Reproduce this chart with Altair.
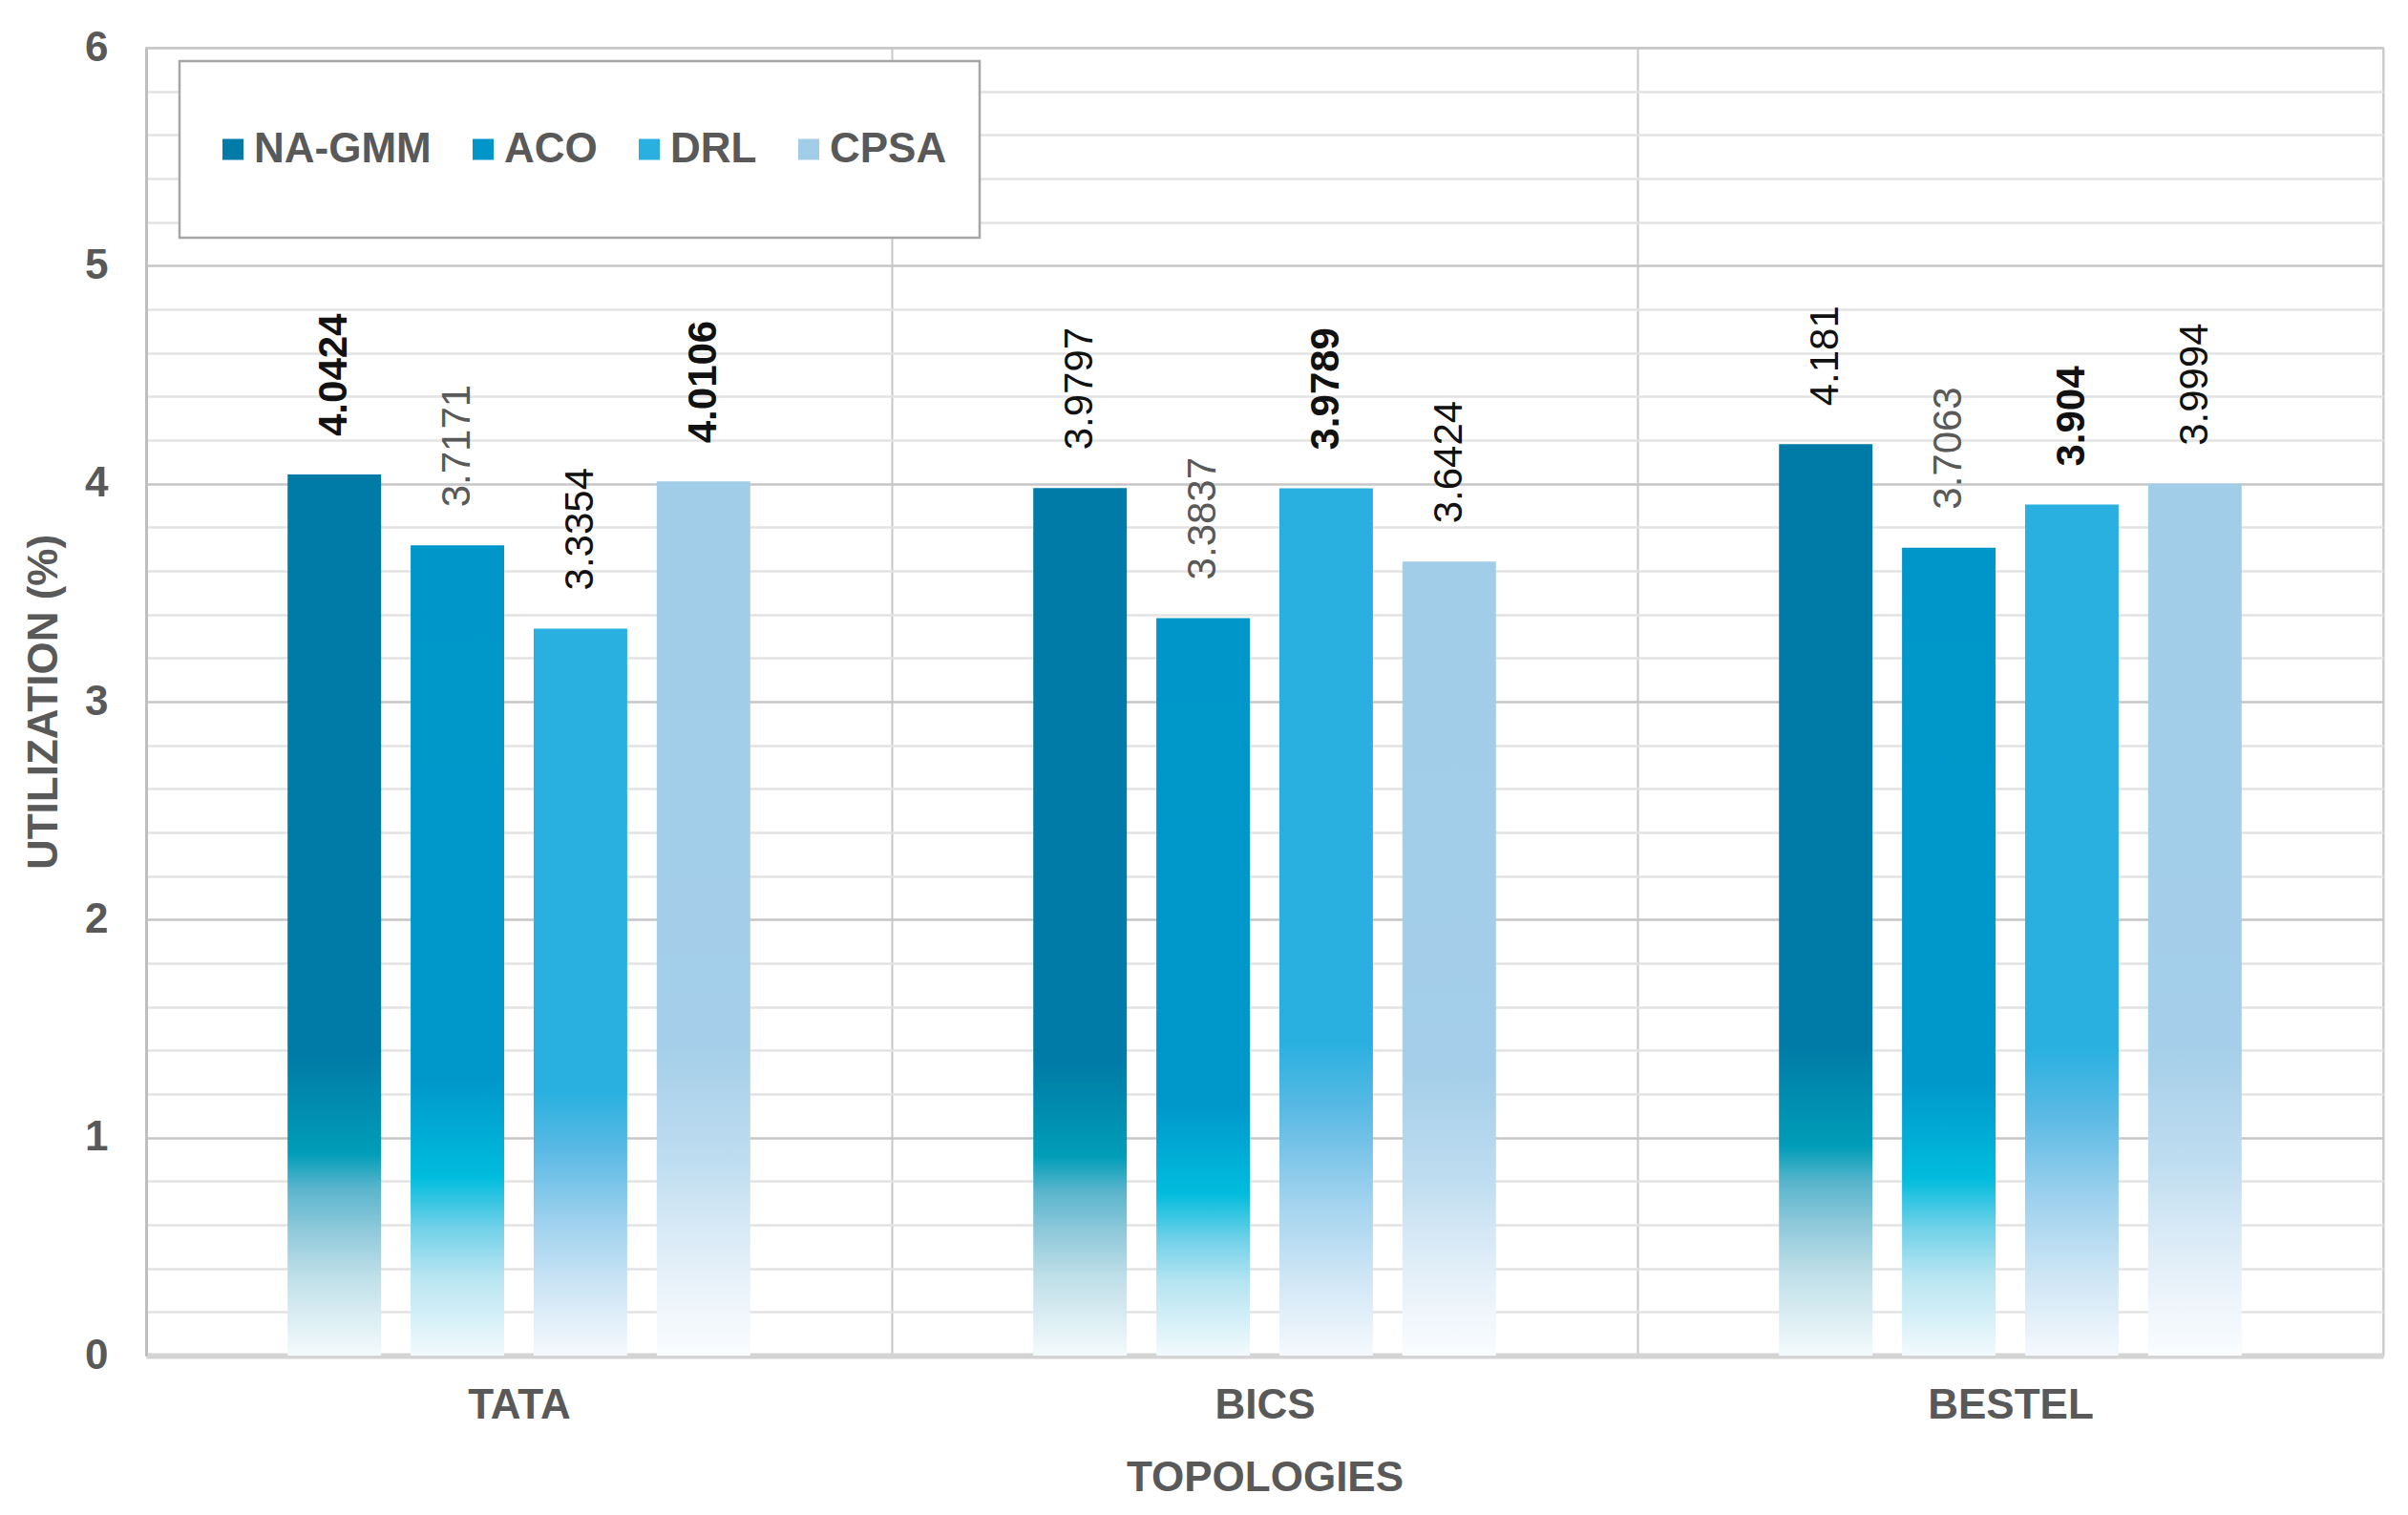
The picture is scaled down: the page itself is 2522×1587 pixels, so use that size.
import altair as alt
import pandas as pd

# values
topologies = ["TATA", "BICS", "BESTEL"]
methods = ["NA-GMM", "ACO", "DRL", "CPSA"]
na_gmm = [4.0424, 3.9797, 4.181]
aco = [3.7171, 3.3837, 3.7063]
drl = [3.3354, 3.9789, 3.904]
cpsa = [4.0106, 3.6424, 3.9994]
y_ticks = [0, 0.2, 0.4, 0.6, 0.8, 1, 1.2, 1.4, 1.6, 1.8, 2, 2.2, 2.4, 2.6, 2.8,
           3, 3.2, 3.4, 3.6, 3.8, 4, 4.2, 4.4, 4.6, 4.8, 5, 5.2, 5.4, 5.6, 5.8, 6]

FONT = "Liberation Sans"
GREY = "#595959"
solid = ["#007BA7", "#0096C9", "#2AB0E0", "#A2CDE8"]

# excel-like gradient fill for every series (top -> bottom of bar)
stops = {
    "NA-GMM": [(0, "#007BA7"), (0.66, "#007BA7"), (0.77, "#009DB8"), (0.81, "#59B5CD"),
               (0.86, "#92CADB"), (0.91, "#BFDFE8"), (1, "#F4FAFC")],
    "ACO": [(0, "#0096C9"), (0.66, "#0098CB"), (0.78, "#00BCDD"), (0.84, "#6DD0E8"),
            (0.9, "#B5E4F1"), (1, "#F2FAFD")],
    "DRL": [(0, "#2AB0E0"), (0.64, "#2AB0E0"), (0.72, "#5CBAE4"), (0.82, "#A0D2EE"),
            (0.91, "#CFE6F5"), (1, "#F5F9FD")],
    "CPSA": [(0, "#A2CDE8"), (0.64, "#A4CEE9"), (0.78, "#BFDDF0"), (0.86, "#D9EAF6"),
             (0.94, "#EEF5FB"), (1, "#FAFCFE")],
}

# labels drawn in bold in the original
bold_pairs = [("TATA", "NA-GMM"), ("TATA", "CPSA"), ("BICS", "DRL"), ("BESTEL", "DRL")]
bold_test = " || ".join(
    f"(datum.topology == '{t}' && datum.method == '{m}')" for t, m in bold_pairs
)

rows = []
for m, vals in zip(methods, [na_gmm, aco, drl, cpsa]):
    for t, v in zip(topologies, vals):
        rows.append({"topology": t, "method": m, "value": v})
df = pd.DataFrame(rows)

x_enc = alt.X(
    "topology:N",
    sort=topologies,
    scale=alt.Scale(domain=topologies, paddingInner=0, paddingOuter=0),
    axis=alt.Axis(
        title="TOPOLOGIES", labelAngle=0, ticks=False, tickBand="extent",
        grid=True, gridColor="#C8C8C8", gridWidth=2,
        domainColor="#D4D4D4", domainWidth=6,
        labelFont=FONT, labelFontSize=44, labelFontWeight="bold", labelColor=GREY,
        labelPadding=30,
        titleFont=FONT, titleFontSize=44, titleFontWeight="bold", titleColor=GREY,
        titlePadding=32,
    ),
)
# two unused slots at the ends keep the bar cluster narrow inside each group
xoff_enc = alt.XOffset(
    "method:N",
    scale=alt.Scale(domain=["_l"] + methods + ["_r"], paddingInner=0.24, paddingOuter=0.15),
)
y_enc = alt.Y(
    "value:Q",
    scale=alt.Scale(domain=[0, 6], nice=False),
    axis=alt.Axis(
        title="UTILIZATION (%)", values=y_ticks, ticks=False,
        labelExpr="datum.value % 1 === 0 ? format(datum.value, 'd') : ''",
        gridColor={"condition": {"test": "datum.value % 1 === 0", "value": "#C6C6C6"},
                   "value": "#E3E3E3"},
        gridWidth=2.5,
        domainColor="#BFBFBF", domainWidth=3,
        labelFont=FONT, labelFontSize=44, labelFontWeight="bold", labelColor=GREY,
        labelPadding=40,
        titleFont=FONT, titleFontSize=44, titleFontWeight="bold", titleColor=GREY,
        titlePadding=20,
    ),
)

base = alt.Chart(df)

bars = []
for m in methods:
    grad = alt.LinearGradient(
        gradient="linear", x1=0, y1=0, x2=0, y2=1,
        stops=[alt.GradientStop(offset=o, color=c) for o, c in stops[m]],
    )
    bars.append(
        base.transform_filter(f"datum.method == '{m}'")
        .mark_bar(color=grad)
        .encode(x=x_enc, xOffset=xoff_enc, y=y_enc)
    )

label_color = alt.condition("datum.method == 'ACO'", alt.value(GREY), alt.value("#111111"))
text_args = dict(angle=270, align="left", baseline="middle", dx=40, fontSize=42, font=FONT)

labels_bold = base.transform_filter(bold_test).mark_text(fontWeight="bold", **text_args).encode(
    x=x_enc, xOffset=xoff_enc, y=y_enc, text="value:Q", color=label_color
)
labels_plain = base.transform_filter(f"!({bold_test})").mark_text(**text_args).encode(
    x=x_enc, xOffset=xoff_enc, y=y_enc, text="value:Q", color=label_color
)

# legend only (no marks drawn); clipHeight makes the entry row as tall as the box
legend_layer = base.transform_filter("false").mark_square(size=484, opacity=1).encode(
    color=alt.Color(
        "method:N",
        scale=alt.Scale(domain=methods, range=solid),
        legend=alt.Legend(
            title=None, orient="none", legendX=35, legendY=14, direction="horizontal",
            symbolType="square", symbolSize=484, symbolStrokeWidth=0, symbolOpacity=1,
            labelFont=FONT, labelFontSize=44, labelFontWeight="bold", labelColor=GREY,
            labelLimit=600, labelOffset=0, columnPadding=32, padding=34,
            clipHeight=117,
            strokeColor="#A6A6A6", fillColor="white",
        ),
    )
)

chart = alt.layer(*bars, labels_plain, labels_bold, legend_layer).properties(
    width=2343,
    height=1370,
    padding={"left": 16, "top": 20, "right": 10, "bottom": 6},
    background="white",
).configure_view(
    stroke="#D9D9D9", strokeWidth=2
).configure_legend(
    strokeWidth=2.5
)

chart.save("out.html", embed_options={"renderer": "svg", "actions": False})
